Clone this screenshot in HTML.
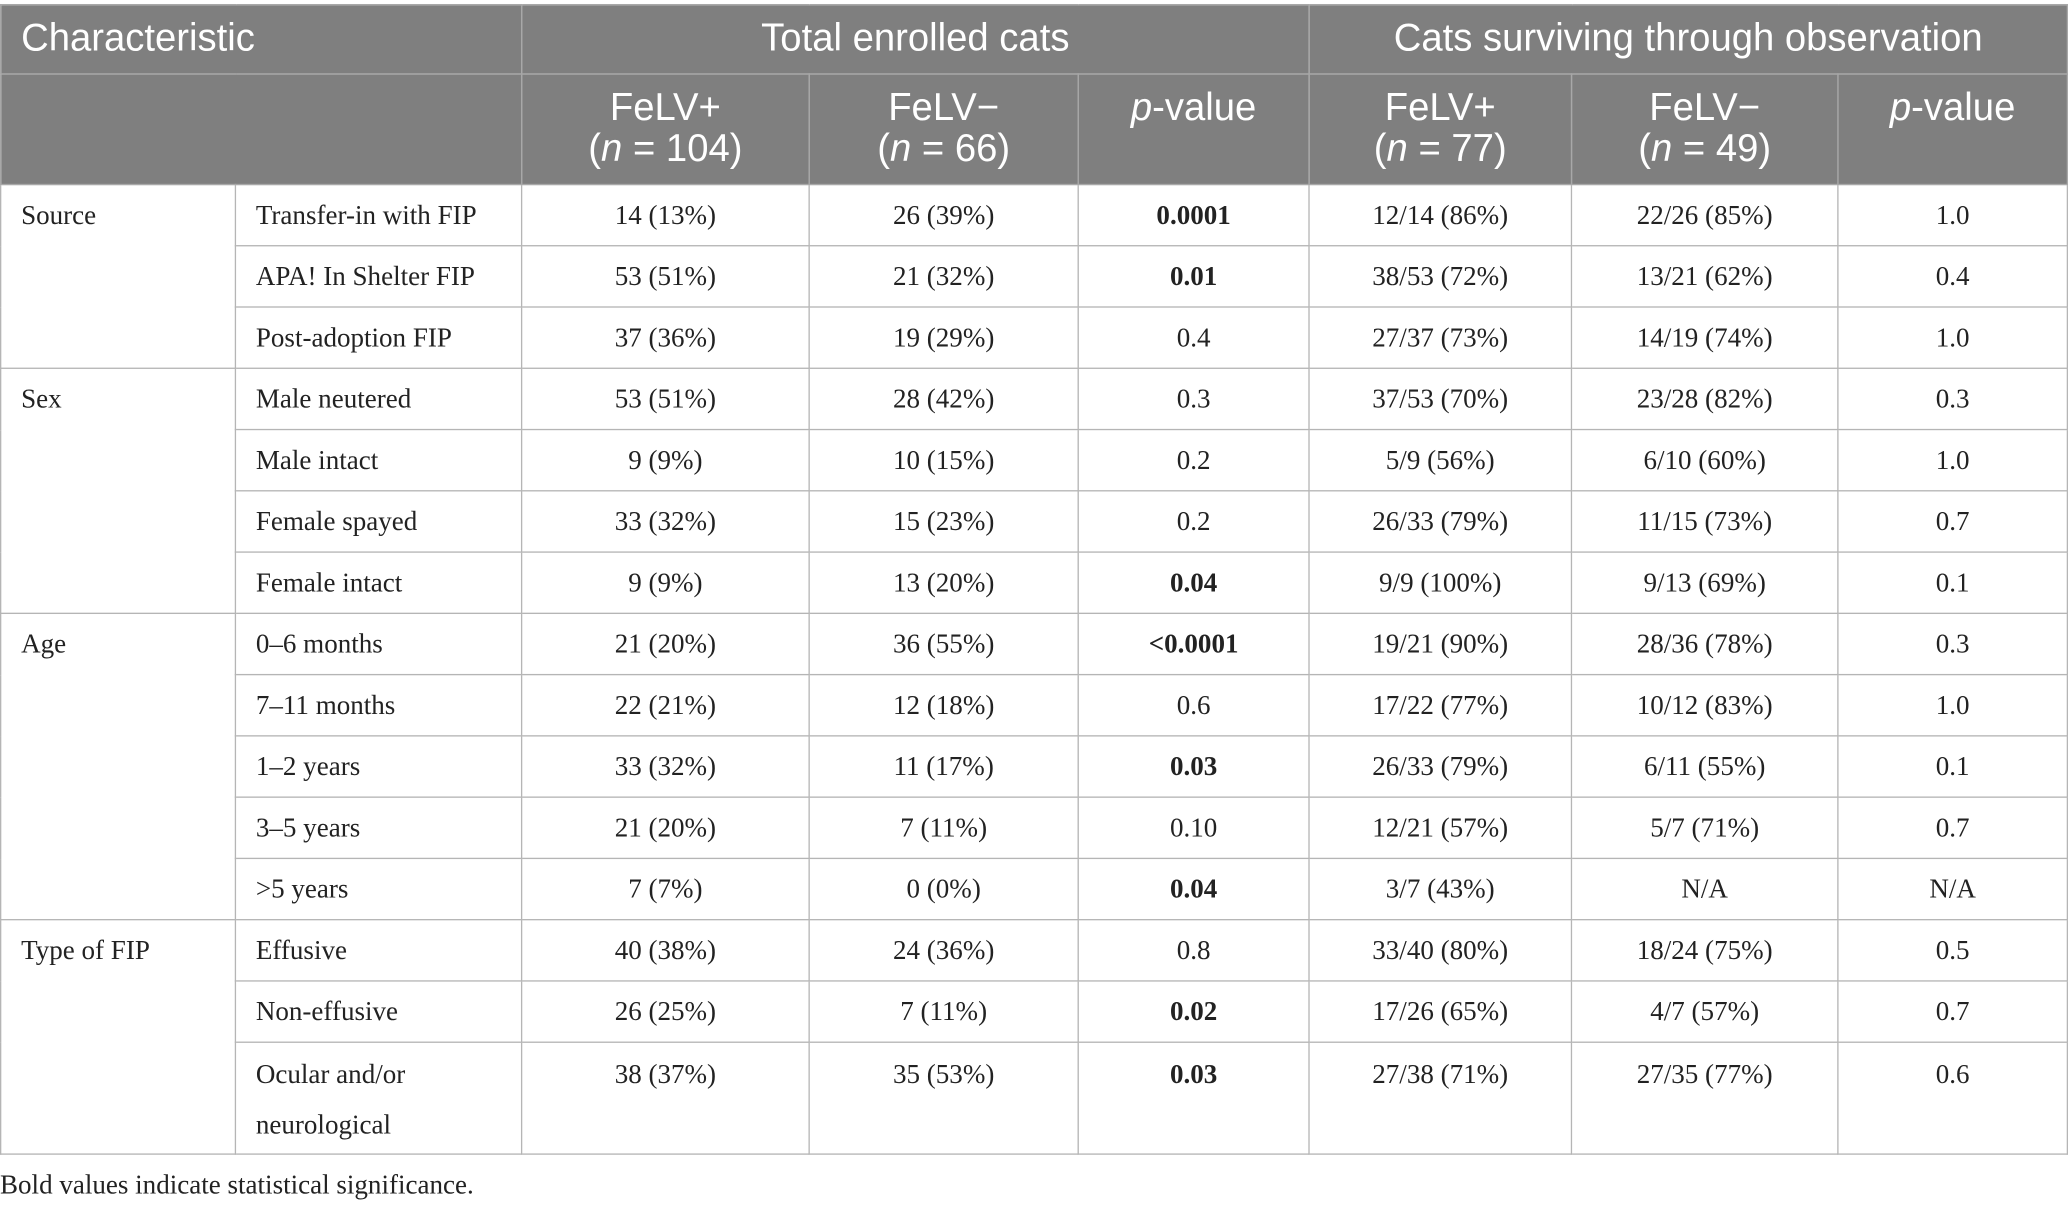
<!DOCTYPE html>
<html><head><meta charset="utf-8"><style>
html,body{margin:0;padding:0;background:#fff;width:2068px;height:1208px;overflow:hidden}
#wrap{position:absolute;left:0;top:0;width:1568px;height:907px;transform-origin:0 0;transform:scale(1.3189,1.3319)}
table{position:absolute;left:0;top:3px;border-collapse:collapse;table-layout:fixed;width:1567px}
td,th{padding:0;border:1px solid #b5b5b5;font-family:"Liberation Serif",serif;font-size:20.5px;color:#222;text-align:center;font-weight:normal}
th{background:#7f7f7f;color:#fff;font-family:"Liberation Sans",sans-serif;font-size:29px;border-color:#a8a8a8;line-height:31px}
td{height:45px;line-height:22px}
td.l{text-align:left;padding-left:15px}
td.cat{vertical-align:top;padding-top:12px}
b{font-weight:bold}
.foot{position:absolute;left:0;top:879px;font-family:"Liberation Serif",serif;font-size:20.5px;color:#222}
</style></head><body>
<div id="wrap">
<table>
<colgroup><col style="width:178px"><col style="width:217px"><col style="width:218px"><col style="width:204px"><col style="width:175px"><col style="width:199px"><col style="width:202px"><col style="width:174px"></colgroup>
<tr style="height:52px"><th colspan="2" style="text-align:left;padding-left:15px">Characteristic</th><th colspan="3">Total enrolled cats</th><th colspan="3">Cats surviving through observation</th></tr>
<tr style="height:83px"><th colspan="2"></th><th>FeLV+<br>(<i>n</i> = 104)</th><th>FeLV−<br>(<i>n</i> = 66)</th><th style="vertical-align:top;padding-top:10px"><i>p</i>-value</th><th>FeLV+<br>(<i>n</i> = 77)</th><th>FeLV−<br>(<i>n</i> = 49)</th><th style="vertical-align:top;padding-top:10px"><i>p</i>-value</th></tr>
<tr><td class="l cat" rowspan="3">Source</td><td class="l">Transfer-in with FIP</td><td>14 (13%)</td><td>26 (39%)</td><td><b>0.0001</b></td><td>12/14 (86%)</td><td>22/26 (85%)</td><td>1.0</td></tr>
<tr><td class="l">APA! In Shelter FIP</td><td>53 (51%)</td><td>21 (32%)</td><td><b>0.01</b></td><td>38/53 (72%)</td><td>13/21 (62%)</td><td>0.4</td></tr>
<tr><td class="l">Post-adoption FIP</td><td>37 (36%)</td><td>19 (29%)</td><td>0.4</td><td>27/37 (73%)</td><td>14/19 (74%)</td><td>1.0</td></tr>
<tr><td class="l cat" rowspan="4">Sex</td><td class="l">Male neutered</td><td>53 (51%)</td><td>28 (42%)</td><td>0.3</td><td>37/53 (70%)</td><td>23/28 (82%)</td><td>0.3</td></tr>
<tr><td class="l">Male intact</td><td>9 (9%)</td><td>10 (15%)</td><td>0.2</td><td>5/9 (56%)</td><td>6/10 (60%)</td><td>1.0</td></tr>
<tr><td class="l">Female spayed</td><td>33 (32%)</td><td>15 (23%)</td><td>0.2</td><td>26/33 (79%)</td><td>11/15 (73%)</td><td>0.7</td></tr>
<tr><td class="l">Female intact</td><td>9 (9%)</td><td>13 (20%)</td><td><b>0.04</b></td><td>9/9 (100%)</td><td>9/13 (69%)</td><td>0.1</td></tr>
<tr><td class="l cat" rowspan="5">Age</td><td class="l">0–6 months</td><td>21 (20%)</td><td>36 (55%)</td><td><b>&lt;0.0001</b></td><td>19/21 (90%)</td><td>28/36 (78%)</td><td>0.3</td></tr>
<tr><td class="l">7–11 months</td><td>22 (21%)</td><td>12 (18%)</td><td>0.6</td><td>17/22 (77%)</td><td>10/12 (83%)</td><td>1.0</td></tr>
<tr><td class="l">1–2 years</td><td>33 (32%)</td><td>11 (17%)</td><td><b>0.03</b></td><td>26/33 (79%)</td><td>6/11 (55%)</td><td>0.1</td></tr>
<tr><td class="l">3–5 years</td><td>21 (20%)</td><td>7 (11%)</td><td>0.10</td><td>12/21 (57%)</td><td>5/7 (71%)</td><td>0.7</td></tr>
<tr><td class="l">&gt;5 years</td><td>7 (7%)</td><td>0 (0%)</td><td><b>0.04</b></td><td>3/7 (43%)</td><td>N/A</td><td>N/A</td></tr>
<tr><td class="l cat" rowspan="3">Type of FIP</td><td class="l">Effusive</td><td>40 (38%)</td><td>24 (36%)</td><td>0.8</td><td>33/40 (80%)</td><td>18/24 (75%)</td><td>0.5</td></tr>
<tr><td class="l">Non-effusive</td><td>26 (25%)</td><td>7 (11%)</td><td><b>0.02</b></td><td>17/26 (65%)</td><td>4/7 (57%)</td><td>0.7</td></tr>
<tr style="height:84px"><td class="l" style="vertical-align:top;padding-top:5px;line-height:38px">Ocular and/or<br>neurological</td><td style="vertical-align:top;padding-top:13px">38 (37%)</td><td style="vertical-align:top;padding-top:13px">35 (53%)</td><td style="vertical-align:top;padding-top:13px"><b>0.03</b></td><td style="vertical-align:top;padding-top:13px">27/38 (71%)</td><td style="vertical-align:top;padding-top:13px">27/35 (77%)</td><td style="vertical-align:top;padding-top:13px">0.6</td></tr>
</table>
<div class="foot">Bold values indicate statistical significance.</div>
</div>
</body></html>
